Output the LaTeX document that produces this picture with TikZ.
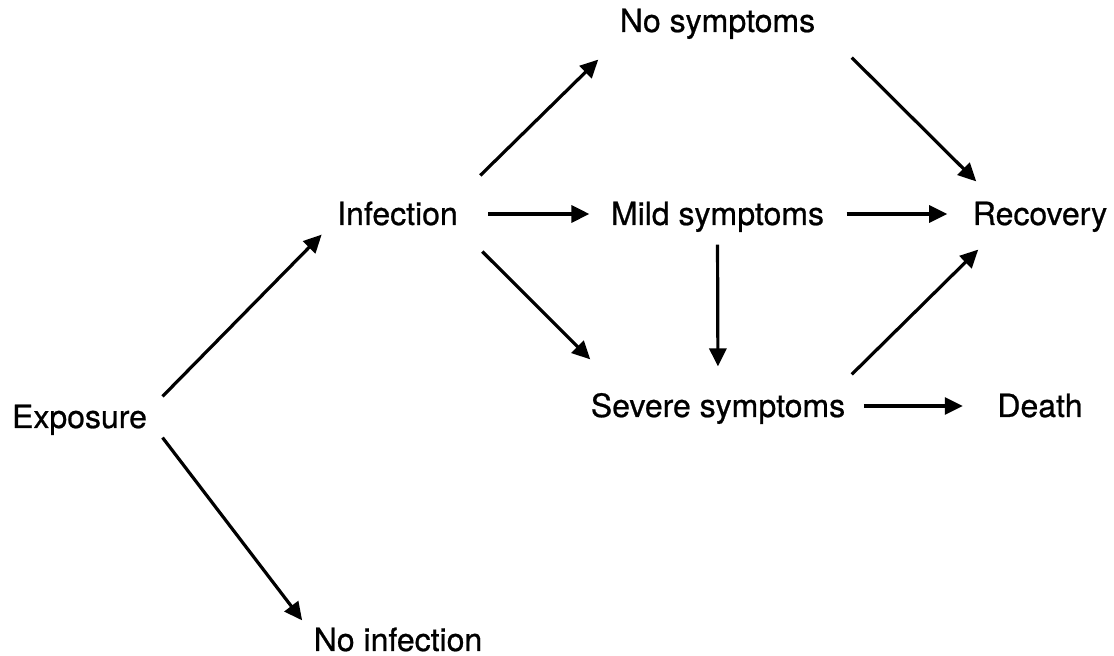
\documentclass[tikz,border=0pt]{standalone}
\usepackage{fontspec}
\setmainfont{TeX Gyre Heros}[FakeBold=0.7]
\usetikzlibrary{arrows.meta}
\begin{document}
\begin{tikzpicture}[>={Triangle[length=9pt,width=8.5pt]},x=0.5pt,y=-0.5pt,line width=1.6pt,
  state/.style={anchor=base,font=\fontsize{16}{18}\selectfont,text height=11pt,text depth=0pt,inner xsep=7pt,inner ysep=4pt}]
\useasboundingbox (0,0) rectangle (1114,656);
\node[state](exp) at (79.5,428){Exposure};
\node[state](inf) at (397.5,225){Infection};
\node[state,inner ysep=0pt](noinf) at (398,651){No infection};
\node[state](nosym) at (717.5,32){No symptoms};
\node[state](mild) at (717.5,225){Mild symptoms};
\node[state](sev) at (718,417){Severe symptoms};
\node[state](rec) at (1040,225){Recovery};
\node[state](death) at (1040,417){Death};
% exposure
\draw[->](exp.north east)--(inf.south west);
\draw[->](exp.south east)--([shift={(4,-7)}]noinf.north west);
% infection
\draw[->]([shift={(7,-18)}]inf.north east)--([shift={(-6,18)}]nosym.south west);
\draw[->,shorten <=7.5pt,shorten >=3pt](inf)--(mild);
\draw[->]([shift={(9,17)}]inf.south east)--([shift={(15,-26)}]sev.north west);
% symptoms
\draw[->]([shift={(21,16)}]nosym.south east)--([shift={(19,-12)}]rec.north west);
\draw[->,shorten <=3.5pt,shorten >=5pt](mild)--(rec);
\draw[->,shorten <=5pt,shorten >=9.5pt](mild.south)--(sev.north);
\draw[->]([shift={(-9,-11)}]sev.north east)--([shift={(21,15)}]rec.south west);
\draw[->,shorten <=1.5pt,shorten >=9.5pt](sev)--(death);
\end{tikzpicture}
\end{document}
